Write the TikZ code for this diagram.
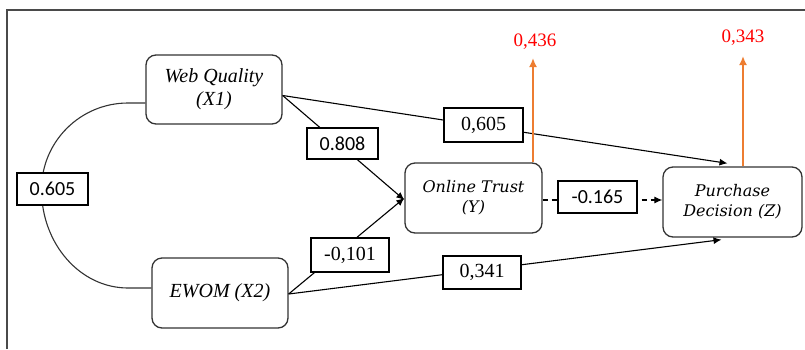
\documentclass[tikz,border=0pt]{standalone}
\usepackage{fontspec}
\setmainfont{Liberation Serif}
\newfontfamily\carl{Carlito}
\newfontfamily\dvserif{DejaVu Serif}
\usetikzlibrary{arrows.meta}
\definecolor{frameg}{HTML}{4A4A4A}
\definecolor{boxg}{HTML}{333333}
\definecolor{orng}{HTML}{ED7D31}
\definecolor{redlab}{HTML}{FF0000}
\tikzset{
  var/.style={draw=boxg, line width=1.3pt, rounded corners=10pt, align=center, inner sep=0pt},
  tvar/.style={var, font=\fontsize{20}{23}\selectfont\itshape},
  dvar/.style={var, font=\dvserif\fontsize{16}{20}\selectfont\itshape},
  coef/.style={draw=black, line width=1.2pt, fill=white, inner sep=0pt},
  tcoef/.style={coef, font=\fontsize{20}{22}\selectfont},
  ccoef/.style={coef, font=\carl\fontsize{20}{22}\selectfont},
  path/.style={draw=black, line width=1.1pt, -{Latex[length=8pt,width=7pt]}},
  resid/.style={draw=orng, line width=2.2pt, -{Latex[length=9pt,width=8pt]}},
  rlab/.style={text=redlab, font=\fontsize{19}{21}\selectfont, inner sep=0pt}
}
\begin{document}
\begin{tikzpicture}[x=1pt,y=-1pt]
\useasboundingbox (0,0) rectangle (805,349);
% frame (top and left edges)
\draw[frameg, line width=2pt] (7,349) -- (7,10) -- (806,10);

% variable boxes
\node[tvar, minimum width=136pt, minimum height=69pt] (wq) at (214,89.5) {Web Quality\\(X1)};
\node[dvar, minimum width=137pt, minimum height=70pt] (ot) at (473.5,198) {Online Trust\\(Y)};
\node[dvar, minimum width=139pt, minimum height=70pt] (pd) at (732.5,202) {Purchase\\Decision (Z)};
\node[tvar, minimum width=136pt, minimum height=70pt] (ew) at (220,293) {EWOM (X2)};

% correlation curve
\draw[boxg, line width=1.1pt] ([yshift=-13.5pt]wq.west) -- (128,103)
  .. controls (80.2,103) and (41.5,141.7) .. (41.5,189.5)
  .. controls (41.5,243.9) and (80.2,288) .. (128,288)
  -- ([yshift=5pt]ew.west);

% structural paths
\draw[path] ([yshift=-6pt]wq.east) -- ([xshift=-5pt,yshift=3pt]pd.north);
\draw[path] ([yshift=-6pt]wq.east) -- ([yshift=-2pt]ot.west);
\draw[path] ([yshift=-1pt]ew.east) -- (ot.west);
\draw[path] ([yshift=-1pt]ew.east) -- ([xshift=-11pt,yshift=-2pt]pd.south);
\draw[path, dash pattern=on 5pt off 4pt] ([yshift=-2pt]ot.east) -- ([yshift=2pt]pd.west);

% residual arrows
\coordinate (t1) at (533,58);
\coordinate (t2) at (743,56);
\draw[resid] (ot.north -| t1) -- (t1);
\draw[resid] (pd.north -| t2) -- (t2);
\node[rlab] (r1) at (535,42) {0,436};
\node[rlab] (r2) at (743,38) {0,343};

% coefficient labels
\node[ccoef, minimum width=71pt, minimum height=32pt] (l1) at (52.5,189) {0.605};
\node[ccoef, minimum width=71pt, minimum height=31pt] (l2) at (342.5,143.5) {0.808};
\node[tcoef, minimum width=79pt, minimum height=34pt] (l3) at (483.5,125) {0,605};
\node[ccoef, minimum width=79pt, minimum height=32pt] (l4) at (597.5,197) {-0.165};
\node[tcoef, minimum width=78pt, minimum height=34pt] (l5) at (350,255) {-0,101};
\node[tcoef, minimum width=78pt, minimum height=33pt] (l6) at (482,272.5) {0,341};
\end{tikzpicture}
\end{document}
